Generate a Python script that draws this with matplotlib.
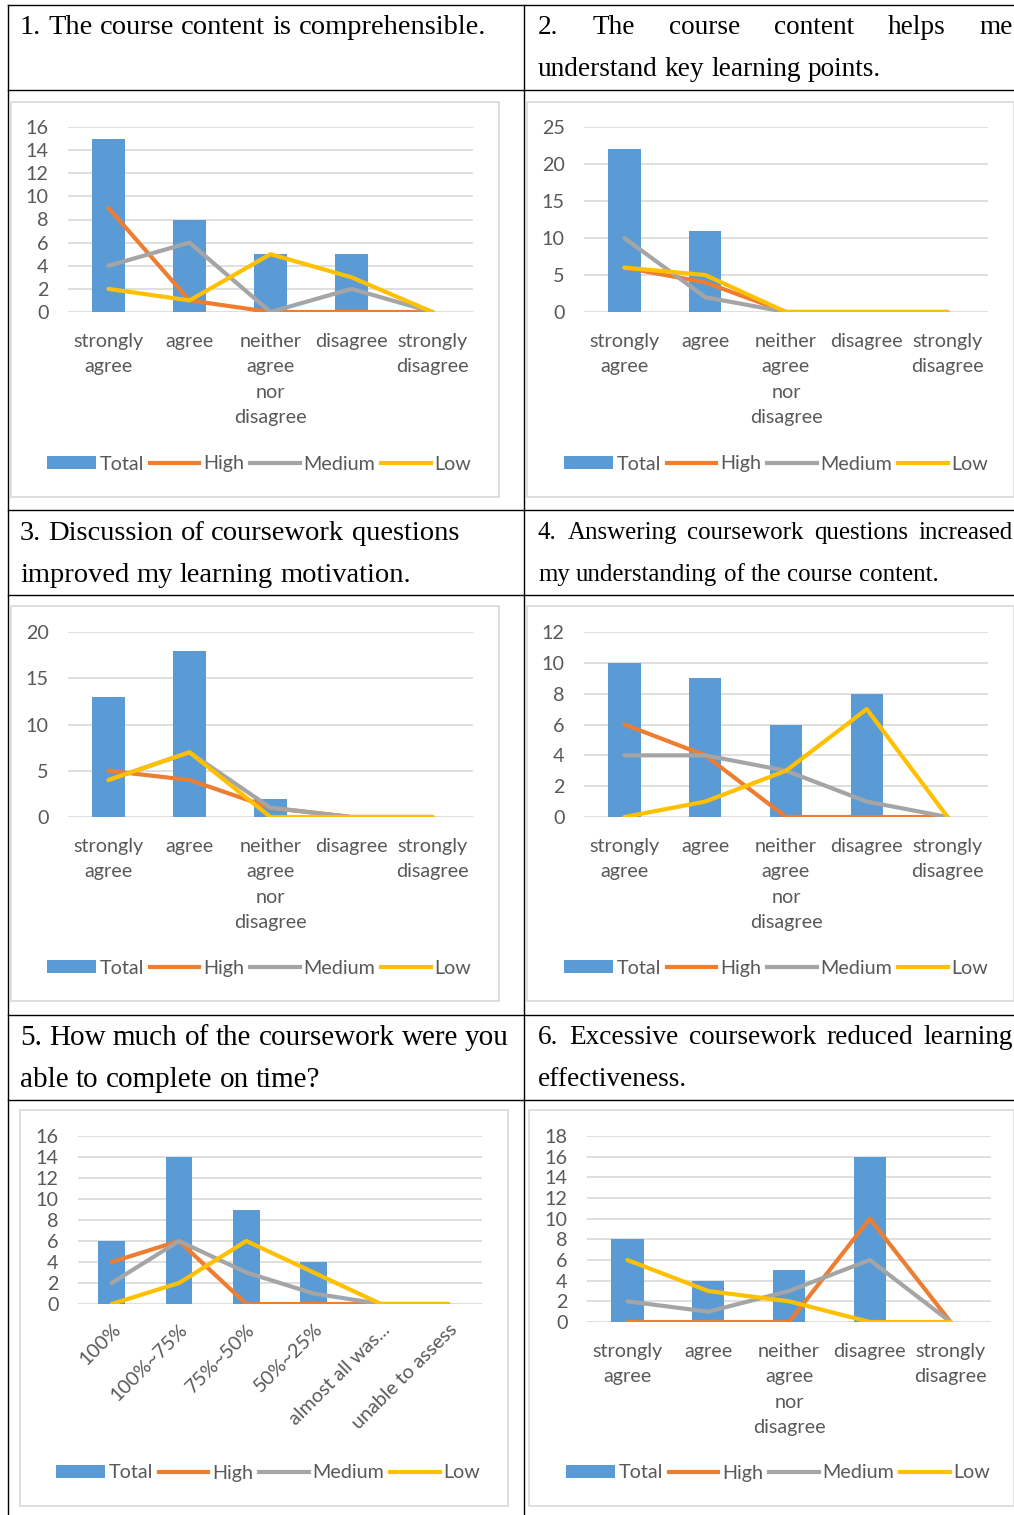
import matplotlib
matplotlib.use("Agg")
import matplotlib.pyplot as plt
from matplotlib.patches import Rectangle, Patch
from matplotlib.lines import Line2D

# ---------------- data ----------------
likert = ["strongly\nagree", "agree", "neither\nagree\nnor\ndisagree", "disagree", "strongly\ndisagree"]
completion = ["100%", "100%~75%", "75%~50%", "50%~25%", "almost all was...", "unable to assess"]

q1_total = [15, 8, 5, 5, 0]
q1_high = [9, 1, 0, 0, 0]
q1_medium = [4, 6, 0, 2, 0]
q1_low = [2, 1, 5, 3, 0]

q2_total = [22, 11, 0, 0, 0]
q2_high = [6, 4, 0, 0, 0]
q2_medium = [10, 2, 0, 0, 0]
q2_low = [6, 5, 0, 0, 0]

q3_total = [13, 18, 2, 0, 0]
q3_high = [5, 4, 1, 0, 0]
q3_medium = [4, 7, 1, 0, 0]
q3_low = [4, 7, 0, 0, 0]

q4_total = [10, 9, 6, 8, 0]
q4_high = [6, 4, 0, 0, 0]
q4_medium = [4, 4, 3, 1, 0]
q4_low = [0, 1, 3, 7, 0]

q5_total = [6, 14, 9, 4, 0, 0]
q5_high = [4, 6, 0, 0, 0, 0]
q5_medium = [2, 6, 3, 1, 0, 0]
q5_low = [0, 2, 6, 3, 0, 0]

q6_total = [8, 4, 5, 16, 0]
q6_high = [0, 0, 0, 10, 0]
q6_medium = [2, 1, 3, 6, 0]
q6_low = [6, 3, 2, 0, 0]

# question headers, split into the lines shown in each table cell
header_lines = [
    ["1. The course content is comprehensible."],
    ["2. The course content helps me", "understand key learning points."],
    ["3. Discussion of coursework questions", "improved my learning motivation."],
    ["4. Answering coursework questions increased", "my understanding of the course content."],
    ["5. How much of the coursework were you", "able to complete on time?"],
    ["6. Excessive coursework reduced learning", "effectiveness."],
]
series_names = ["Total", "High", "Medium", "Low"]

# ---------------- styling ----------------
W, H = 1014, 1515
DPI = 100
C_TOTAL = "#5B9BD5"
C_HIGH = "#ED7D31"
C_MED = "#A5A5A5"
C_LOW = "#FFC000"
C_TEXT = "#595959"
C_GRID = "#D9D9D9"
SANS = ["Lato", "DejaVu Sans"]
SERIF = ["Liberation Serif", "DejaVu Serif"]
FS = 14.2
LW = 3.0

fig = plt.figure(figsize=(W / DPI, H / DPI), dpi=DPI)
fig.patch.set_facecolor("white")


def fx(x):
    return x / W


def fy(y):
    return 1 - y / H


# table rules
for y in [5, 90, 510, 595, 1015, 1100]:
    fig.add_artist(Line2D([fx(8), 1.0], [fy(y), fy(y)], color="black", lw=1.0))
for x in [8, 524]:
    fig.add_artist(Line2D([fx(x), fx(x)], [fy(5), 0.0], color="black", lw=1.0))

renderer = fig.canvas.get_renderer()


def text_width(s, size):
    t = fig.text(0, 0, s, fontsize=size, family=SERIF)
    w = t.get_window_extent(renderer).width
    t.remove()
    return w


def header(lines, x0, x1, ys, size):
    """Write a header cell; every line but the last is justified to the cell width."""
    space = text_width("a b", size) - text_width("ab", size)
    for i, (line, y) in enumerate(zip(lines, ys)):
        words = line.split()
        widths = [text_width(w, size) for w in words]
        justify = i < len(lines) - 1 and len(words) > 1
        gap = (x1 - x0 - sum(widths)) / (len(words) - 1) if justify else space
        x = x0
        for w, wd in zip(words, widths):
            fig.text(fx(x), fy(y), w, fontsize=size, family=SERIF, va="center", ha="left")
            x += wd + gap


L_X0, L_X1 = 20, 509
R_X0, R_X1 = 538, 1013
header(header_lines[0], L_X0, L_X1, [28], 20.5)
header(header_lines[1], R_X0, R_X1, [28, 70], 19.6)
header(["3. Discussion of coursework questions"], L_X0, L_X1, [533], 20.5)
header(["improved my learning motivation."], L_X0, L_X1, [575], 20.5)
header(header_lines[3], R_X0, R_X1, [533, 575], 17.9)
header(header_lines[4], L_X0, L_X1, [1038, 1080], 21.0)
header(header_lines[5], R_X0, R_X1, [1038, 1080], 19.6)


def panel(box, plot, cats, total, high, med, low, ymax, ystep, legend_y, legend_x, rotate=False):
    bx0, by0, bx1, by1 = box
    fig.add_artist(Rectangle((fx(bx0), fy(by1)), fx(bx1 - bx0), (by1 - by0) / H,
                             facecolor="none", edgecolor=C_GRID, lw=1.2))
    px0, py_top, px1, py0 = plot
    ax = fig.add_axes([fx(px0), fy(py0), fx(px1 - px0), (py0 - py_top) / H])
    ax.patch.set_alpha(0)
    n = len(cats)
    xs = list(range(n))
    ax.bar(xs, total, width=0.4, color=C_TOTAL, zorder=2)
    ax.plot(xs, high, color=C_HIGH, lw=LW, zorder=3, solid_capstyle="round")
    ax.plot(xs, med, color=C_MED, lw=LW, zorder=3, solid_capstyle="round")
    ax.plot(xs, low, color=C_LOW, lw=LW, zorder=4, solid_capstyle="round")
    ax.set_xlim(-0.5, n - 0.5)
    ax.set_ylim(0, ymax)
    ax.set_yticks(range(0, ymax + 1, ystep))
    ax.yaxis.grid(True, color=C_GRID, lw=1.2, zorder=0)
    ax.set_axisbelow(True)
    for s in ax.spines.values():
        s.set_visible(False)
    ax.tick_params(axis="y", length=0, pad=14, labelsize=FS, labelcolor=C_TEXT)
    ax.tick_params(axis="x", length=0, labelsize=FS, labelcolor=C_TEXT)
    ax.set_xticks(xs)
    if rotate:
        ax.set_xticklabels(cats, rotation=45, ha="right", rotation_mode="anchor")
        ax.tick_params(axis="x", pad=12)
    else:
        ax.set_xticklabels(cats, linespacing=1.6)
        ax.tick_params(axis="x", pad=15)
    for lab in ax.get_xticklabels() + ax.get_yticklabels():
        lab.set_family(SANS)
    handles = [Patch(facecolor=C_TOTAL), Line2D([], [], color=C_HIGH, lw=LW),
               Line2D([], [], color=C_MED, lw=LW), Line2D([], [], color=C_LOW, lw=LW)]
    fig.legend(handles, series_names, loc="center",
               bbox_to_anchor=(fx(legend_x), fy(legend_y)), ncol=4, frameon=False,
               prop={"family": SANS, "size": FS}, labelcolor=C_TEXT,
               handlelength=2.5, handleheight=0.65, handletextpad=0.2, columnspacing=0.3)
    return ax


panel((11, 102, 499, 497), (68, 127, 473, 312), likert, q1_total, q1_high, q1_medium, q1_low, 16, 2, 464, 259)
panel((527, 102, 1014, 497), (584, 127, 988, 312), likert, q2_total, q2_high, q2_medium, q2_low, 25, 5, 464, 776)
panel((11, 606, 499, 1001), (68, 632, 473, 817), likert, q3_total, q3_high, q3_medium, q3_low, 20, 5, 968, 259)
panel((527, 606, 1014, 1001), (584, 632, 988, 817), likert, q4_total, q4_high, q4_medium, q4_low, 12, 2, 968, 776)
panel((20, 1110, 508, 1506), (78, 1136, 482, 1304), completion, q5_total, q5_high, q5_medium, q5_low, 16, 2, 1473, 268, rotate=True)
panel((529, 1110, 1014, 1506), (587, 1136, 991, 1322), likert, q6_total, q6_high, q6_medium, q6_low, 18, 2, 1473, 778)

fig.savefig("out.png", dpi=DPI)
